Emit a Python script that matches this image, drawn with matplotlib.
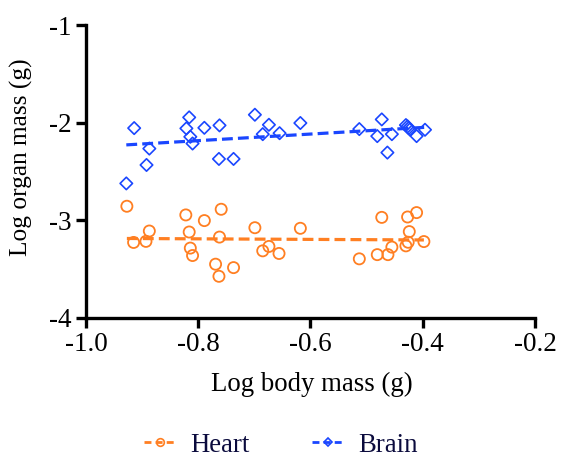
import numpy as np
import matplotlib
matplotlib.use('Agg')
import matplotlib.pyplot as plt
from matplotlib.lines import Line2D

# values
heart_x = [-0.927, -0.915, -0.893, -0.887, -0.822, -0.816, -0.814, -0.810, -0.789,
           -0.759, -0.762, -0.769, -0.763, -0.737, -0.699, -0.685, -0.674, -0.656,
           -0.618, -0.513, -0.481, -0.473, -0.462, -0.455, -0.430, -0.427, -0.424,
           -0.426, -0.411, -0.398]
heart_y = [-2.856, -3.227, -3.216, -3.110, -2.945, -3.120, -3.285, -3.361, -3.003,
           -2.887, -3.172, -3.450, -3.574, -3.485, -3.076, -3.313, -3.268, -3.340,
           -3.082, -3.395, -3.352, -2.970, -3.352, -3.275, -3.262, -2.966, -3.116,
           -3.225, -2.921, -3.218]

brain_x = [-0.928, -0.914, -0.892, -0.887, -0.821, -0.816, -0.814, -0.810, -0.789,
           -0.762, -0.763, -0.737, -0.699, -0.685, -0.674, -0.655, -0.618, -0.513,
           -0.481, -0.473, -0.463, -0.455, -0.430, -0.427, -0.425, -0.423, -0.411,
           -0.396]
brain_y = [-2.622, -2.055, -2.433, -2.265, -2.058, -1.945, -2.144, -2.213, -2.052,
           -2.027, -2.371, -2.371, -1.918, -2.117, -2.021, -2.107, -2.003, -2.065,
           -2.137, -1.966, -2.306, -2.117, -2.024, -2.038, -2.055, -2.069, -2.137,
           -2.072]

x_ticks = [-1.0, -0.8, -0.6, -0.4, -0.2]
y_ticks = [-1, -2, -3, -4]

orange = '#ff7f22'
blue = '#1a46ff'
navy = '#0b0b3d'

plt.rcParams['font.family'] = ['Liberation Serif', 'DejaVu Serif']

fig = plt.figure(figsize=(5.65, 4.58), dpi=100)
ax = fig.add_axes([0.152, 0.306, 0.795, 0.639])

ax.scatter(heart_x, heart_y, s=64, facecolors='none', edgecolors=orange,
           linewidths=1.3, marker='o', zorder=3)
ax.scatter(brain_x, brain_y, s=40, facecolors='none', edgecolors=blue,
           linewidths=1.2, marker='D', zorder=3)

# linear fits over the data range
for xs, ys, col in [(heart_x, heart_y, orange), (brain_x, brain_y, blue)]:
    k, b = np.polyfit(xs, ys, 1)
    xx = np.array([min(xs), max(xs)])
    ax.plot(xx, k * xx + b, color=col, lw=2.3, ls=(0, (3.4, 1.6)), zorder=2)

ax.set_xlim(-1.0, -0.2)
ax.set_ylim(-4, -1)
ax.set_xticks(x_ticks)
ax.set_xticklabels(['%.1f' % v for v in x_ticks])
ax.set_yticks(y_ticks)
ax.set_yticklabels(['%d' % v for v in y_ticks])

for s in ['top', 'right']:
    ax.spines[s].set_visible(False)
for s in ['left', 'bottom']:
    ax.spines[s].set_linewidth(2.4)
ax.tick_params(width=2.4, length=7, labelsize=19.5, pad=3)

ax.set_xlabel('Log body mass (g)', fontsize=19.3)
ax.set_ylabel('Log organ mass (g)', fontsize=18.3)
ax.xaxis.set_label_coords(0.502, -0.185)
ax.yaxis.set_label_coords(-0.118, 0.55)

handles = [
    Line2D([0], [0], color=orange, ls=(0, (2.5, 1.5)), lw=2, marker='o', ms=5.5,
           mfc='none', mec=orange, mew=1.2),
    Line2D([0], [0], color=blue, ls=(0, (2.5, 1.5)), lw=2, marker='D', ms=4.5,
           mfc='none', mec=blue, mew=1.2),
]
leg = fig.legend(handles, ['Heart', 'Brain'], loc='center', bbox_to_anchor=(0.497, 0.028),
                 ncol=2, frameon=False, fontsize=19.3, handlelength=1.25,
                 columnspacing=2.3, handletextpad=0.5)
for t in leg.get_texts():
    t.set_color(navy)

fig.savefig('out.png', dpi=100)
